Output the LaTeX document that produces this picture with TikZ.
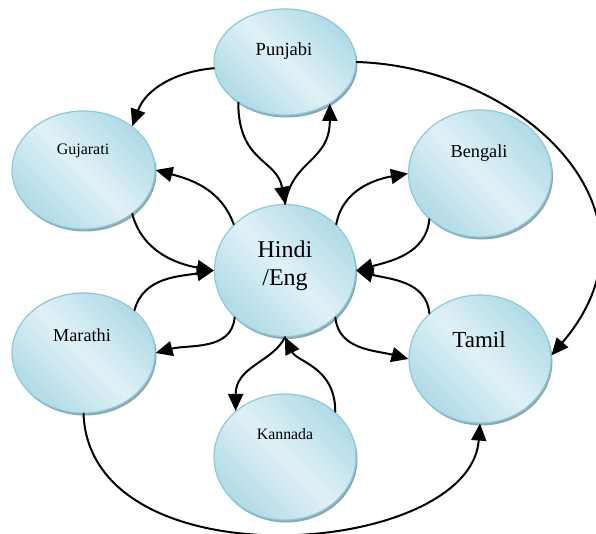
\documentclass[tikz,border=0pt]{standalone}
\usepackage{fontspec}
\setmainfont{Liberation Serif}
\usetikzlibrary{arrows.meta,shapes.geometric,shadows}
\definecolor{langlight}{HTML}{E0F1F6}
\definecolor{langdark}{HTML}{AFDBE7}
\definecolor{langedge}{HTML}{8CCADB}
\definecolor{langshadow}{HTML}{8DA7B0}

\begin{document}
\begin{tikzpicture}[x=1pt, y=1pt, >={Triangle[length=17pt, width=15pt]}, line cap=round,
  lang/.style={ellipse, draw=langedge, line width=1.2pt, inner sep=0pt,
    top color=langdark, bottom color=langdark, middle color=langlight, shading angle=135,
    general shadow={fill=langshadow, shadow xshift=1.5pt, shadow yshift=-2.5pt}},
  link/.style={->, black, line width=2pt}]
\useasboundingbox (0,0) rectangle (596,-534);
% language bubbles
\node[lang, minimum width=142pt, minimum height=106pt] (pun) at (285,-62) {};
\node[lang, minimum width=143pt, minimum height=118pt] (guj) at (83.5,-170) {};
\node[lang, minimum width=143pt, minimum height=127pt] (ben) at (480,-173.5) {};
\node[lang, minimum width=141pt, minimum height=132pt] (hin) at (285,-270.5) {};
\node[lang, minimum width=143pt, minimum height=120pt] (mar) at (83.5,-353) {};
\node[lang, minimum width=142pt, minimum height=126pt] (kan) at (285,-457) {};
\node[lang, minimum width=142pt, minimum height=128pt] (tam) at (480,-359) {};
% labels
\node[font=\fontsize{18.5}{22}\selectfont, anchor=base] (pun-t) at (284,-56) {Punjabi};
\node[font=\fontsize{16}{19}\selectfont, anchor=base] (guj-t) at (83,-155) {Gujarati};
\node[font=\fontsize{18.3}{22}\selectfont, anchor=base] (ben-t) at (479,-158) {Bengali};
\node[font=\fontsize{24}{28}\selectfont, align=center] (hin-t) at (285,-266) {Hindi\\/Eng};
\node[font=\fontsize{18.2}{22}\selectfont, anchor=base] (mar-t) at (82,-341) {Marathi};
\node[font=\fontsize{15.8}{19}\selectfont, anchor=base] (kan-t) at (285,-439) {Kannada};
\node[font=\fontsize{23}{27}\selectfont, anchor=base] (tam-t) at (479,-347) {Tamil};
% links
\draw[link] (pun.185) to[out=185, in=70] (guj.42);
\draw[link] (pun.221) .. controls +(0,-60) and +(-8,45) .. (hin.90);
\draw[link] (hin.90) .. controls +(8,45) and +(0,-58) .. (pun.-43);
\draw[link] (pun.east) .. controls +(164,-5) and +(124,145) .. (tam.3);
\draw[link] (hin.138) to[out=110, in=-15] (guj.east);
\draw[link] (guj.-42) to[out=-75, in=170] (hin.west);
\draw[link] (hin.42) to[out=80, in=190] (ben.west);
\draw[link] (ben.222) to[out=-95, in=15] (hin.east);
\draw[link] (tam.138) to[out=95, in=-15] (hin.east);
\draw[link] (mar.40) to[out=75, in=190] (hin.west);
\draw[link] (hin.223) to[out=-95, in=15] (mar.east);
\draw[link] (hin.-43) to[out=-85, in=165] (tam.west);
\draw[link] (hin.-90) .. controls +(-12,-25) and +(0,45) .. (kan.137);
\draw[link] (kan.42) .. controls +(0,45) and +(12,-25) .. (hin.-90);
\draw[link] (mar.-90) .. controls +(6.5,-172) and +(-10,-134) .. (tam.-90);
\end{tikzpicture}
\end{document}
